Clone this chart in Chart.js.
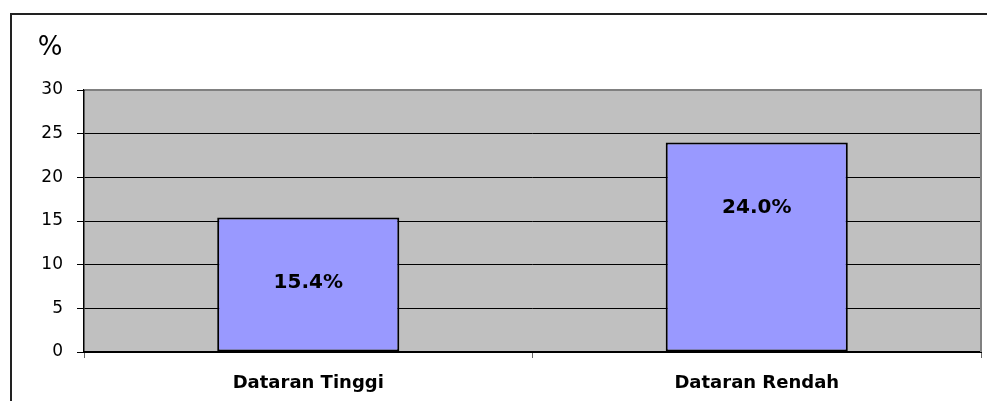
<!DOCTYPE html>
<html>
<head>
<meta charset="utf-8">
<script src="https://cdn.jsdelivr.net/npm/chart.js@4"></script>
<style>
  html, body { margin: 0; padding: 0; background: #fff; }
  #wrap { position: relative; width: 987px; height: 401px; overflow: hidden; }
  #frame { position: absolute; left: 10px; top: 13px; right: -5px; bottom: -5px;
           border-left: 2px solid #222; border-top: 2px solid #222; }
  canvas { position: absolute; left: 0; top: 0; }
</style>
</head>
<body>
<div id="wrap">
  <div id="frame"></div>
  <canvas id="chart" width="987" height="401"></canvas>
</div>
<script>
const categories = ["Dataran Tinggi", "Dataran Rendah"];
const values = [15.4, 24.0];
const valueLabels = ["15.4%", "24.0%"];
const yTicks = [0, 5, 10, 15, 20, 25, 30];

// grey plot background with a shadowed right edge
const plotBg = {
  id: "plotBg",
  beforeDraw(chart) {
    const { ctx, chartArea: a } = chart;
    ctx.save();
    ctx.fillStyle = "#c0c0c0";
    ctx.fillRect(a.left, a.top, a.right - a.left, a.bottom - a.top);
    ctx.restore();
  },
  afterDraw(chart) {
    const { ctx, chartArea: a } = chart;
    ctx.save();
    ctx.strokeStyle = "#808080";
    ctx.lineWidth = 2;
    ctx.beginPath();
    ctx.moveTo(a.left + 1, a.top);
    ctx.lineTo(a.right, a.top);
    ctx.lineTo(a.right, a.bottom);
    ctx.stroke();
    ctx.restore();
  }
};

// "%" title and value labels inside the bars
const labels = {
  id: "labels",
  afterDraw(chart) {
    const { ctx, chartArea: a } = chart;
    ctx.save();
    ctx.fillStyle = "#000";
    ctx.textAlign = "center";
    ctx.textBaseline = "middle";
    ctx.font = "26px 'DejaVu Sans'";
    ctx.fillText("%", 50, a.top - 42);
    ctx.font = "bold 20px 'DejaVu Sans'";
    chart.getDatasetMeta(0).data.forEach((bar, i) => {
      ctx.fillText(valueLabels[i], bar.x, bar.y + 65);
    });
    ctx.restore();
  }
};

new Chart(document.getElementById("chart"), {
  type: "bar",
  data: {
    labels: categories,
    datasets: [{
      data: values,
      backgroundColor: "#9999ff",
      borderColor: "#000",
      borderWidth: 2,
      borderSkipped: false,
      categoryPercentage: 1,
      barPercentage: 0.406
    }]
  },
  options: {
    responsive: false,
    animation: false,
    layout: { padding: { top: 90, right: 6, left: 0, bottom: 0 } },
    plugins: { legend: { display: false }, tooltip: { enabled: false } },
    scales: {
      x: {
        afterFit: s => { s.height = 49; },
        grid: { drawOnChartArea: false, tickLength: 6, color: "#666", offset: true },
        border: { color: "#000", width: 2 },
        ticks: { color: "#000", padding: 15, font: { family: "DejaVu Sans", size: 18, weight: "bold" } }
      },
      y: {
        min: 0,
        max: 30,
        afterFit: s => { s.width = 84; },
        afterBuildTicks: s => { s.ticks = yTicks.map(v => ({ value: v })); },
        grid: { color: "#000", tickLength: 7, lineWidth: 1 },
        border: { color: "#000", width: 1.5 },
        ticks: { color: "#000", padding: 14, font: { family: "DejaVu Sans", size: 17 } }
      }
    }
  },
  plugins: [plotBg, labels]
});
</script>
</body>
</html>
